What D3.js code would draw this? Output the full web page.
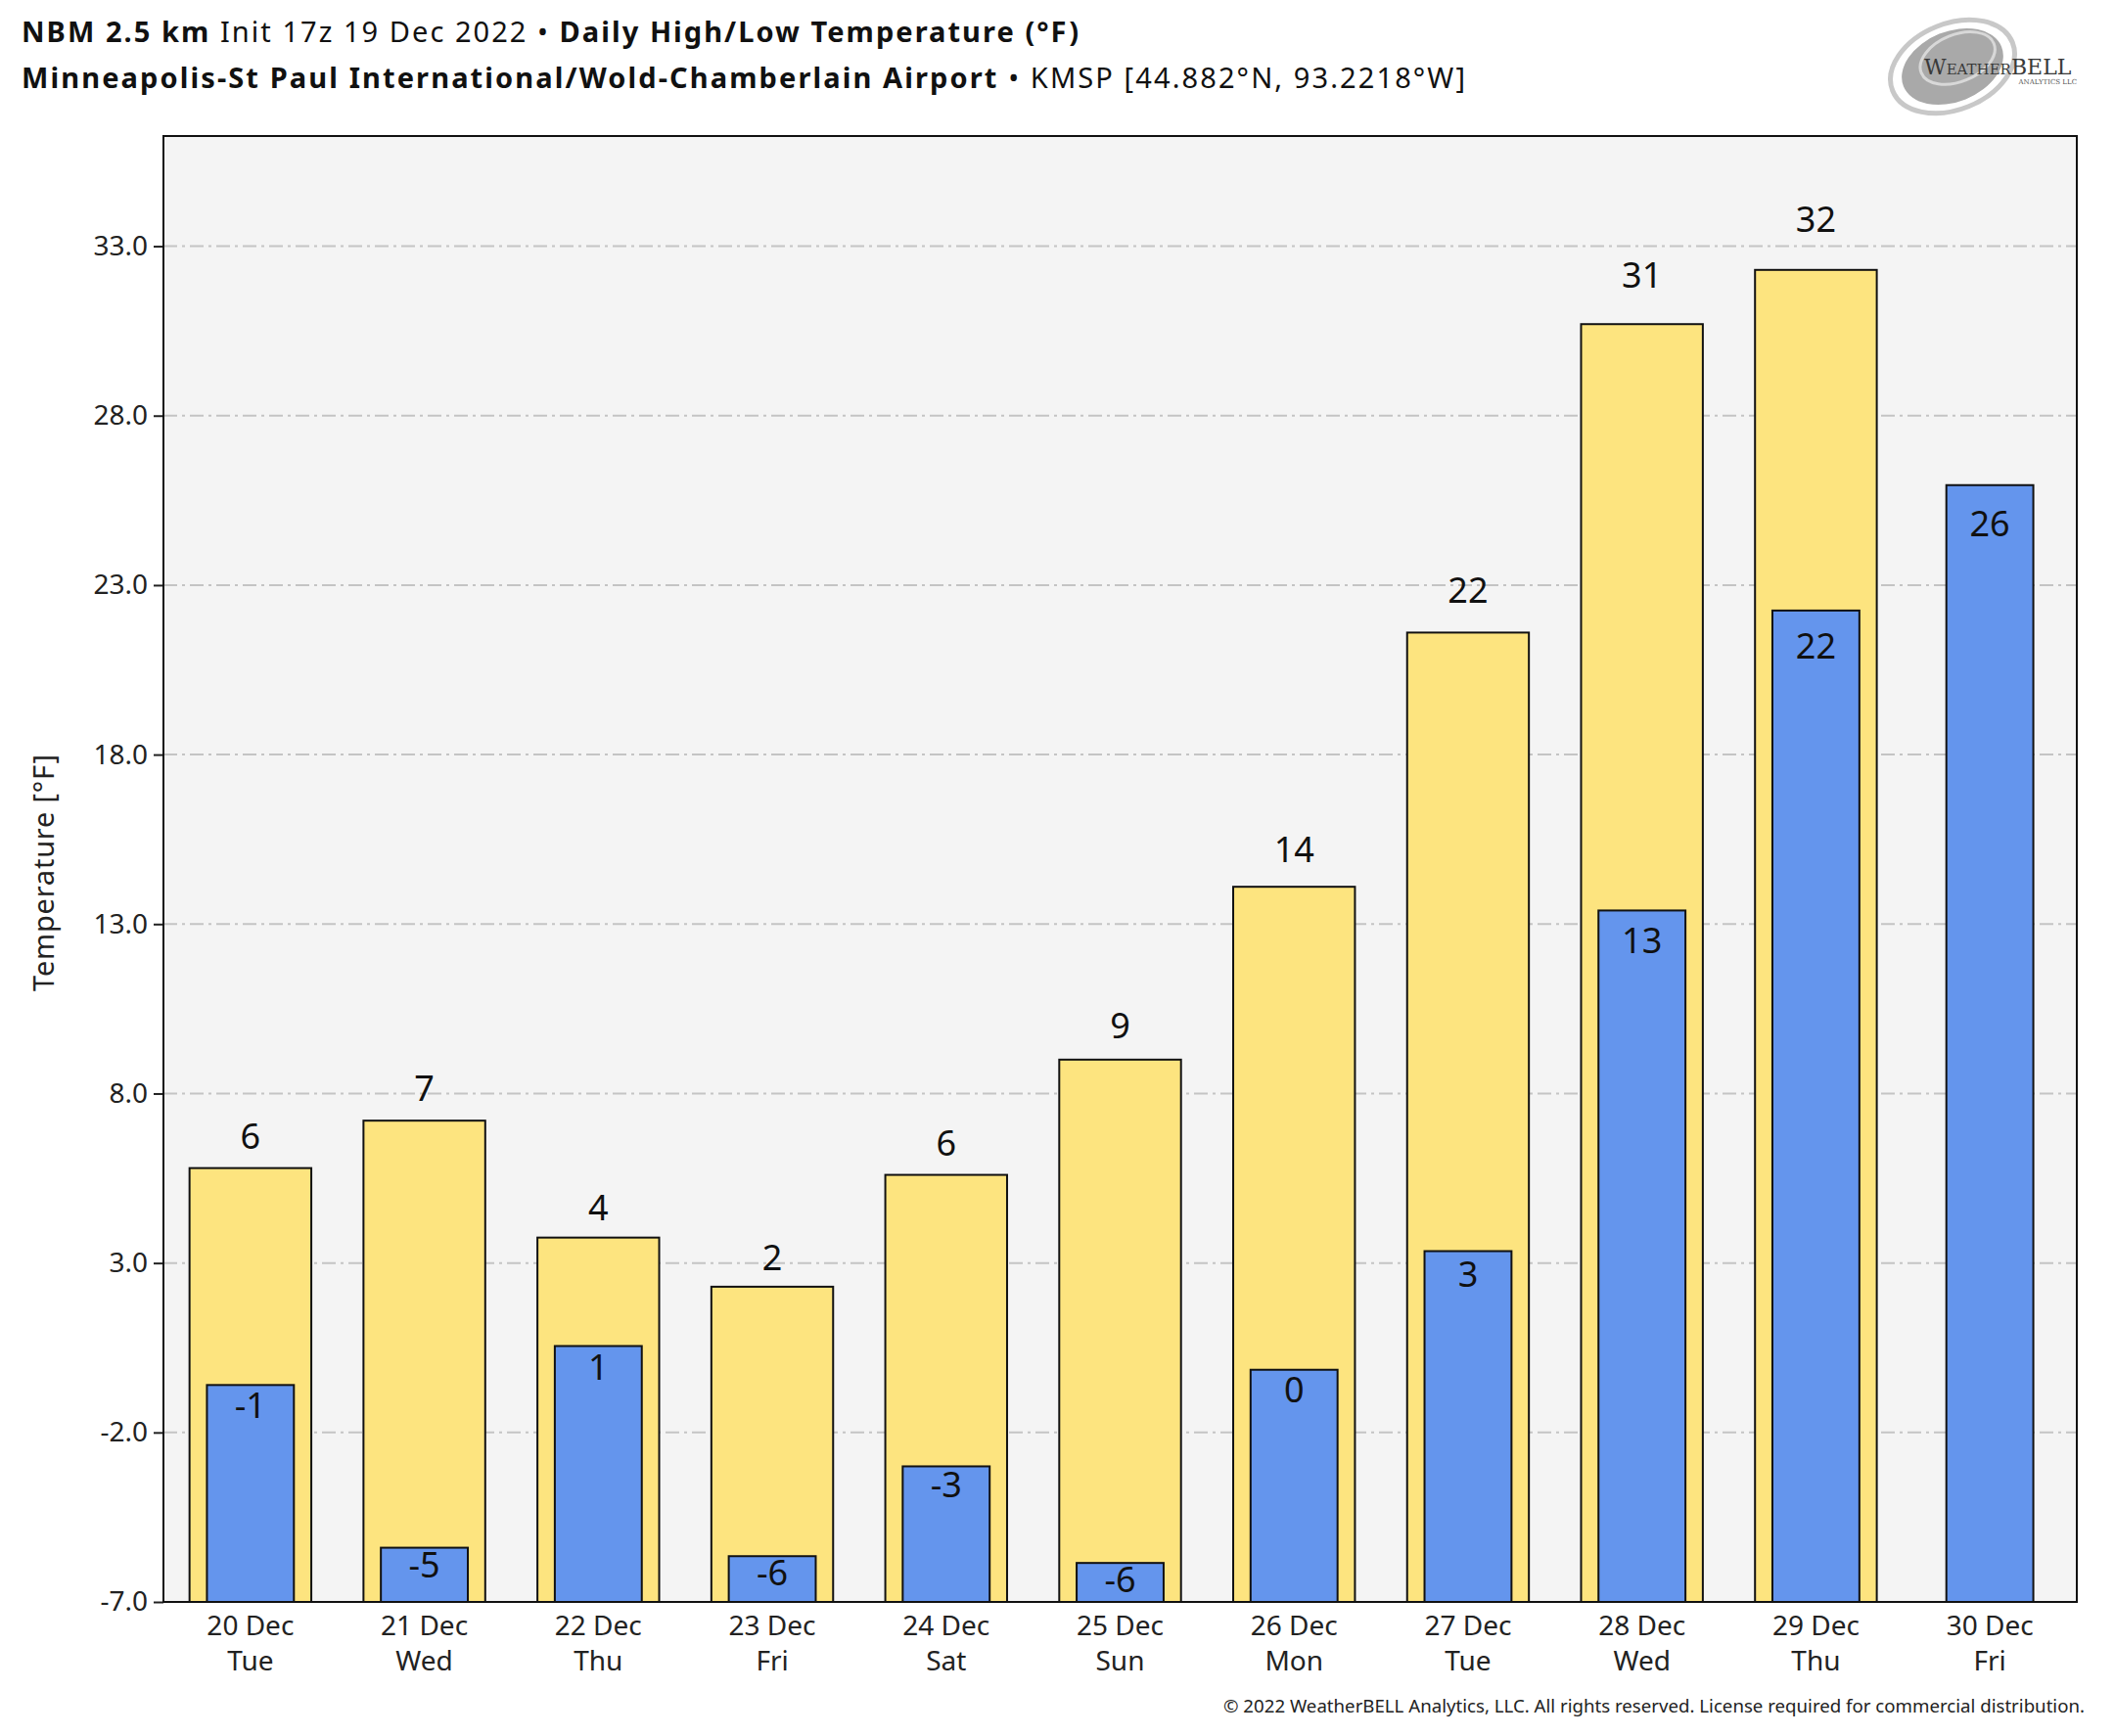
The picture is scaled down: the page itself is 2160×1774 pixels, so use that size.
<!DOCTYPE html>
<html>
<head>
<meta charset="utf-8">
<script src="https://cdn.jsdelivr.net/npm/d3@7"></script>
<style>
  body { margin: 0; background: #fff; }
  text { font-family: "Noto Sans", sans-serif; }
</style>
</head>
<body>
<div id="chart"></div>
<script>
// daily forecast
const days = ["20 Dec", "21 Dec", "22 Dec", "23 Dec", "24 Dec", "25 Dec", "26 Dec", "27 Dec", "28 Dec", "29 Dec", "30 Dec"];
const weekdays = ["Tue", "Wed", "Thu", "Fri", "Sat", "Sun", "Mon", "Tue", "Wed", "Thu", "Fri"];
const highs = [5.8, 7.2, 3.75, 2.3, 5.6, 9.0, 14.1, 21.6, 30.7, 32.3, null];
const lows = [-0.6, -5.4, 0.55, -5.65, -3.0, -5.85, -0.15, 3.35, 13.4, 22.25, 25.95];
const yTicks = [-7, -2, 3, 8, 13, 18, 23, 28, 33];

const W = 2160, H = 1774;
const plot = {left: 167, right: 2122, top: 139, bottom: 1637};

const svg = d3.select("#chart").append("svg")
    .attr("width", W)
    .attr("height", H);

const x = d3.scaleBand()
    .domain(days)
    .range([plot.left, plot.right]);

const y = d3.scaleLinear()
    .domain([-7, 36.25])
    .range([plot.bottom, plot.top]);

const bw = x.bandwidth();
const cx = d => x(d) + bw / 2;
const fmt = v => { let r = Math.round(v); return r === 0 ? "0" : String(r); };

// plot background
svg.append("rect")
    .attr("x", plot.left).attr("y", plot.top)
    .attr("width", plot.right - plot.left)
    .attr("height", plot.bottom - plot.top)
    .attr("fill", "#f4f4f4");

// grid
svg.append("g")
  .selectAll("line")
  .data(yTicks)
  .join("line")
    .attr("x1", plot.left).attr("x2", plot.right)
    .attr("y1", d => y(d)).attr("y2", d => y(d))
    .attr("stroke", "#c4c4c4")
    .attr("stroke-width", 2)
    .attr("stroke-dasharray", "14,5,3,5");

// y axis
let yAxis = svg.append("g")
    .attr("transform", "translate(" + plot.left + ",0)")
    .call(d3.axisLeft(y).tickValues(yTicks).tickSize(10).tickPadding(6)
      .tickFormat(d => d.toFixed(1)));
yAxis.select(".domain").remove();
yAxis.selectAll(".tick line").attr("stroke", "#222").attr("stroke-width", 2);
yAxis.selectAll(".tick text")
    .attr("font-size", 28)
    .attr("fill", "#222")
    .style("font-family", "'Noto Sans', sans-serif");

// highs (yellow) and lows (blue)
const highData = days.map((d, i) => ({day: d, v: highs[i]})).filter(d => d.v !== null);
const lowData = days.map((d, i) => ({day: d, v: lows[i]}));

svg.append("g")
  .selectAll("rect")
  .data(highData)
  .join("rect")
    .attr("x", d => cx(d.day) - bw * 0.35)
    .attr("width", bw * 0.7)
    .attr("y", d => y(d.v))
    .attr("height", d => y(-7) - y(d.v))
    .attr("fill", "#fde47f")
    .attr("stroke", "#111")
    .attr("stroke-width", 2);

svg.append("g")
  .selectAll("rect")
  .data(lowData)
  .join("rect")
    .attr("x", d => cx(d.day) - bw * 0.25)
    .attr("width", bw * 0.5)
    .attr("y", d => y(d.v))
    .attr("height", d => y(-7) - y(d.v))
    .attr("fill", "#6495ed")
    .attr("stroke", "#111")
    .attr("stroke-width", 2);

// value labels
svg.append("g")
  .selectAll("text")
  .data(highData)
  .join("text")
    .attr("x", d => cx(d.day))
    .attr("y", d => y(d.v) - 10 - 0.021 * (y(-7) - y(d.v)))
    .attr("text-anchor", "middle")
    .attr("font-size", 36)
    .attr("fill", "#111")
    .text(d => fmt(d.v));

svg.append("g")
  .selectAll("text")
  .data(lowData)
  .join("text")
    .attr("x", d => cx(d.day))
    .attr("y", d => y(d.v) + 29 + 0.02 * (y(-7) - y(d.v)))
    .attr("text-anchor", "middle")
    .attr("font-size", 36)
    .attr("fill", "#111")
    .text(d => fmt(d.v));

// frame
svg.append("rect")
    .attr("x", plot.left).attr("y", plot.top)
    .attr("width", plot.right - plot.left)
    .attr("height", plot.bottom - plot.top)
    .attr("fill", "none")
    .attr("stroke", "#111")
    .attr("stroke-width", 2);

// x labels
let xl = svg.append("g")
  .selectAll("text")
  .data(days)
  .join("text")
    .attr("text-anchor", "middle")
    .attr("font-size", 28)
    .attr("fill", "#222");
xl.append("tspan").attr("x", d => cx(d)).attr("y", 1671).text(d => d);
xl.append("tspan").attr("x", d => cx(d)).attr("y", 1707).text((d, i) => weekdays[i]);

// y label
svg.append("text")
    .attr("transform", "translate(55," + ((plot.top + plot.bottom) / 2 + 4) + ") rotate(-90)")
    .attr("text-anchor", "middle")
    .attr("font-size", 29)
    .attr("fill", "#222")
    .attr("textLength", 242)
    .attr("lengthAdjust", "spacing")
    .text("Temperature [°F]");

// title
let t1 = svg.append("text").attr("x", 22).attr("y", 43).attr("font-size", 29).attr("fill", "#111")
    .attr("textLength", 1080).attr("lengthAdjust", "spacing");
t1.append("tspan").attr("font-weight", "bold").text("NBM 2.5 km");
t1.append("tspan").text(" Init 17z 19 Dec 2022 • ");
t1.append("tspan").attr("font-weight", "bold").text("Daily High/Low Temperature (°F)");

let t2 = svg.append("text").attr("x", 22).attr("y", 90).attr("font-size", 29).attr("fill", "#111")
    .attr("textLength", 1475).attr("lengthAdjust", "spacing");
t2.append("tspan").attr("font-weight", "bold").text("Minneapolis-St Paul International/Wold-Chamberlain Airport");
t2.append("tspan").text(" • KMSP [44.882°N, 93.2218°W]");

// footer
svg.append("text")
    .attr("x", 2130).attr("y", 1750)
    .attr("text-anchor", "end")
    .attr("font-size", 18)
    .attr("fill", "#222")
    .attr("textLength", 880)
    .attr("lengthAdjust", "spacingAndGlyphs")
    .text("© 2022 WeatherBELL Analytics, LLC. All rights reserved. License required for commercial distribution.");

// logo, rough
let logo = svg.append("g").attr("transform", "translate(1995,68) rotate(-22)");
logo.append("ellipse").attr("rx", 66).attr("ry", 44).attr("fill", "none")
    .attr("stroke", "#c8c8c8").attr("stroke-width", 5);
logo.append("ellipse").attr("rx", 54).attr("ry", 36).attr("fill", "#a9a9a9");
logo.append("ellipse").attr("cx", 8).attr("cy", -6).attr("rx", 40).attr("ry", 24).attr("fill", "none")
    .attr("stroke", "#d8d8d8").attr("stroke-width", 3);
let lt = svg.append("text").attr("x", 1966).attr("y", 76)
    .style("font-family", "'DejaVu Serif', serif").attr("fill", "#3a3a3a");
lt.append("tspan").attr("font-size", 22).text("W");
lt.append("tspan").attr("font-size", 15).text("EATHER");
lt.append("tspan").attr("font-size", 22).text("BELL");
svg.append("text").attr("x", 2122).attr("y", 86).attr("text-anchor", "end")
    .attr("font-size", 7).attr("fill", "#555")
    .style("font-family", "'DejaVu Serif', serif")
    .text("ANALYTICS LLC");
</script>
</body>
</html>
